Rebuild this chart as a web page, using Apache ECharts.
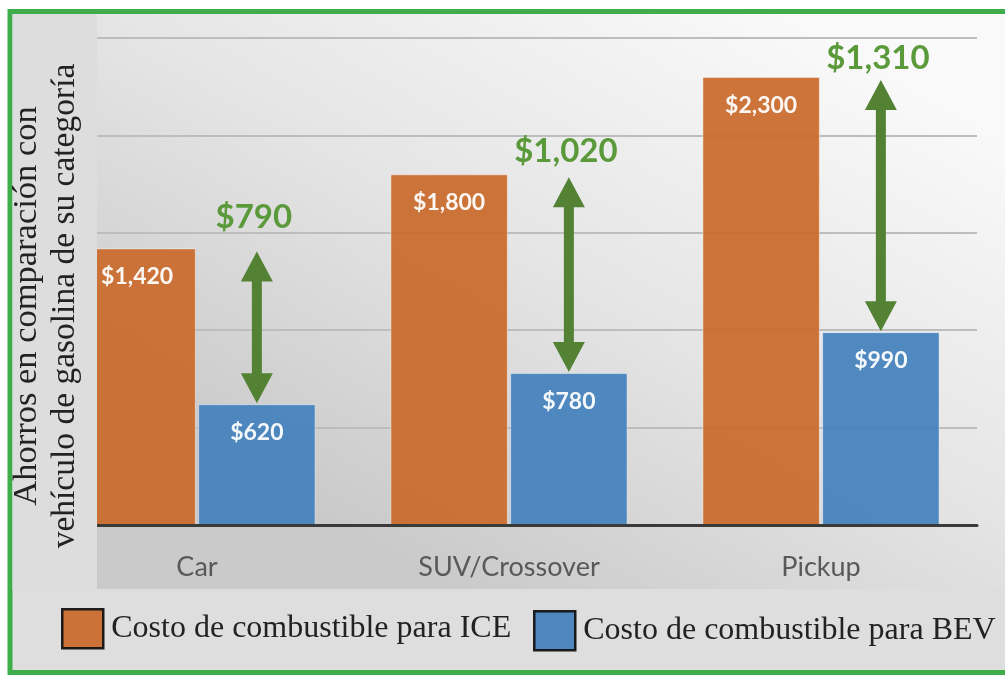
<!DOCTYPE html>
<html>
<head>
<meta charset="utf-8">
<script src="https://cdn.jsdelivr.net/npm/echarts@6/dist/echarts.min.js"></script>
<style>
  html, body { margin: 0; padding: 0; background: #ffffff; }
  #chart { width: 1005px; height: 675px; }
</style>
</head>
<body>
<div id="chart"></div>
<script>
// ---- Data ----
const categories = ['Car', 'SUV/Crossover', 'Pickup'];
const iceCost = [1420, 1800, 2300];
const bevCost = [620, 780, 990];
const savings = [790, 1020, 1310];
const seriesNames = ['Costo de combustible para ICE', 'Costo de combustible para BEV'];
const yMin = 0, yMax = 2500, yInterval = 500;
const yTitleLine1 = 'Ahorros en comparación con';
const yTitleLine2 = 'vehículo de gasolina de su categoría';

// ---- Styles ----
const ORANGE = '#C96B2E';
const BLUE = '#4682BD';
const ARROW = '#548235';
const SAVE_TXT = '#5A9A3B';
const CAT_GAP = 0.24, BAR_GAP = 0.02;
const SAVE_LABEL_GAP = [34, 26, 22]; // distance (px) of each savings label above its arrow

function money(v) { return '$' + Number(v).toLocaleString('en-US'); }

const chart = echarts.init(document.getElementById('chart'), null, { renderer: 'canvas' });

const arrowData = categories.map((c, i) => [i, iceCost[i], bevCost[i], savings[i]]);

const legendCommon = {
  padding: 0,
  itemWidth: 41, itemHeight: 39,
  icon: 'rect',
  itemStyle: { borderColor: '#111111', borderWidth: 2.5 },
  textStyle: { fontFamily: 'Liberation Serif', fontSize: 32, color: '#222222', padding: [0, 0, 0, 3] }
};

const option = {
  backgroundColor: '#ffffff',
  animation: false,
  grid: { left: 41, right: 28, top: 38, bottom: 150, containLabel: false },
  xAxis: {
    type: 'category',
    data: categories,
    axisTick: { show: false },
    axisLine: { show: true, lineStyle: { color: '#3a3a3a', width: 3 } },
    axisLabel: { color: '#595959', fontSize: 27, fontFamily: 'Lato', margin: 29 },
    z: 3
  },
  yAxis: {
    type: 'value',
    min: yMin, max: yMax, interval: yInterval,
    axisLabel: { show: false },
    axisLine: { show: false },
    axisTick: { show: false },
    splitLine: { show: true, lineStyle: { color: '#bdbdbd', width: 2 } }
  },
  legend: [
    Object.assign({ data: [seriesNames[0]], left: 61, top: 608 }, legendCommon),
    Object.assign({ data: [seriesNames[1]], left: 533, top: 610 }, legendCommon)
  ],
  graphic: [
    {
      type: 'rect', z: -20,
      shape: { x: 10, y: 11.5, width: 1010, height: 661 },
      style: { fill: '#dedede', stroke: '#3EAE4A', lineWidth: 5 }
    },
    {
      type: 'rect', z: -10,
      shape: { x: 97, y: 14, width: 908, height: 575 },
      style: {
        fill: new echarts.graphic.LinearGradient(0.75, 0, 0.4, 1, [
          { offset: 0, color: '#f9f9f9' },
          { offset: 0.5, color: '#e5e5e5' },
          { offset: 1, color: '#cacaca' }
        ])
      }
    },
    {
      type: 'rect', z: 100,
      shape: { x: 12.5, y: 14, width: 84.5, height: 576 },
      style: { fill: '#dddddd' }
    },
    {
      type: 'text', z: 101,
      x: 46, y: 306, rotation: Math.PI / 2,
      style: {
        text: '{a|' + yTitleLine1 + '}\n{b|' + yTitleLine2 + '}',
        fill: '#222222',
        align: 'center', verticalAlign: 'middle',
        rich: {
          a: { fontFamily: 'Liberation Serif', fontSize: 34.5, lineHeight: 38, fill: '#222222' },
          b: { fontFamily: 'Liberation Serif', fontSize: 33.5, lineHeight: 38, fill: '#222222' }
        }
      }
    }
  ],
  series: [
    {
      name: seriesNames[0], type: 'bar', data: iceCost,
      barCategoryGap: (CAT_GAP * 100) + '%', barGap: (BAR_GAP * 100) + '%',
      itemStyle: { color: ORANGE, opacity: 0.94, borderColor: 'rgba(255,255,255,0.45)', borderWidth: 1 },
      label: {
        show: true, position: 'insideTop', distance: 17,
        formatter: p => money(p.value),
        color: '#ffffff', fontFamily: 'Lato', fontWeight: 'bold', fontSize: 23
      }
    },
    {
      name: seriesNames[1], type: 'bar', data: bevCost,
      itemStyle: { color: BLUE, opacity: 0.94, borderColor: 'rgba(255,255,255,0.45)', borderWidth: 1 },
      label: {
        show: true, position: 'insideTop', distance: 17,
        formatter: p => money(p.value),
        color: '#ffffff', fontFamily: 'Lato', fontWeight: 'bold', fontSize: 23
      }
    },
    {
      type: 'custom', z: 5,
      data: arrowData,
      renderItem: function (params, api) {
        const i = api.value(0);
        const top = api.coord([i, api.value(1)]);
        const bot = api.coord([i, api.value(2)]);
        const band = api.size([1, 0])[0];
        const bw = band * (1 - CAT_GAP) / (2 + BAR_GAP);
        const x = top[0] + bw * (1 + BAR_GAP) / 2;
        const y1 = top[1] + 3, y2 = bot[1] - 1;
        const hh = 30, hw = 16, sw = 5;
        return {
          type: 'group',
          children: [
            {
              type: 'polygon',
              shape: { points: [
                [x, y1], [x + hw, y1 + hh], [x + sw, y1 + hh], [x + sw, y2 - hh], [x + hw, y2 - hh],
                [x, y2], [x - hw, y2 - hh], [x - sw, y2 - hh], [x - sw, y1 + hh], [x - hw, y1 + hh]
              ] },
              style: { fill: ARROW }
            },
            {
              type: 'text',
              x: x - 3, y: y1 - SAVE_LABEL_GAP[params.dataIndex],
              style: {
                text: money(api.value(3)),
                font: 'bold 33px Lato',
                fill: SAVE_TXT,
                align: 'center', verticalAlign: 'middle'
              }
            }
          ]
        };
      }
    }
  ]
};

chart.setOption(option);
</script>
</body>
</html>
